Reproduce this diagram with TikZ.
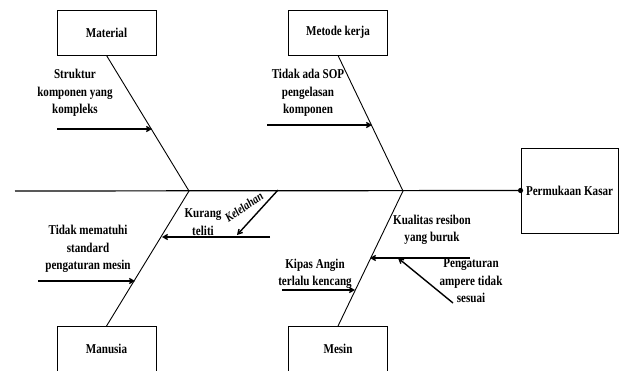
\documentclass[tikz,border=0pt]{standalone}
\usepackage{fontspec}
\setmainfont{Liberation Serif}[FakeStretch=0.82]
\usetikzlibrary{arrows.meta}

\tikzset{
  causebox/.style={draw, line width=0.9pt, minimum width=99pt, minimum height=45pt,
    inner sep=0pt, font=\fontsize{13.5}{17.5}\selectfont\bfseries},
  cause/.style={align=center, inner sep=0pt, font=\fontsize{13.5}{17.5}\selectfont\bfseries},
  rib/.style={line width=0.9pt},
  subarrow/.style={line width=1.4pt, -{Straight Barb[angle=60:5pt]}},
}

\begin{document}
\begin{tikzpicture}[x=1pt,y=-1pt]
    \useasboundingbox (0,0) rectangle (620,371);
    \clip (0,0) rectangle (620,371);

    % kategori
    \node[causebox] (material) at (106.5,32.5) {Material};
    \node[causebox] (metode) at (338,32.5) {Metode kerja};
    \node[causebox] (manusia) at (106.5,349) {Manusia};
    \node[causebox] (mesin) at (338,349) {Mesin};
    \node[causebox, minimum width=97pt, minimum height=85pt] (akibat) at (569.5,190.5) {Permukaan Kasar};

    % tulang utama
    \coordinate (ekor) at (15,191);
    \coordinate (jkiri) at (189,191);
    \coordinate (jkanan) at (403,191);
    \draw[line width=1.2pt] (ekor) -- (akibat.west);
    \fill (akibat.west) circle (2.6pt);
    \draw[rib] (material.south) -- (jkiri) -- (manusia.north);
    \draw[rib] (metode.south) -- (jkanan) -- (mesin.north);

    % sebab
    \node[cause] (struktur) at (75,93) {Struktur\\komponen yang\\kompleks};
    \node[cause] (sop) at (308,93) {Tidak ada SOP\\pengelasan\\komponen};
    \node[cause] (mematuhi) at (88,249) {Tidak mematuhi\\standard\\pengaturan mesin};
    \node[cause] (kurang) at (203,222) {Kurang\\teliti};
    \node[cause, font=\fontsize{12.5}{13}\selectfont\bfseries\itshape, rotate=35] (lelah) at (244,207) {Kelelahan};
    \node[cause] (resibon) at (432,230) {Kualitas resibon\\yang buruk};
    \node[cause] (ampere) at (471,281) {Pengaturan\\ampere tidak\\sesuai};
    \node[cause] (kipas) at (315,274) {Kipas Angin\\terlalu kencang};

    \coordinate (s1a) at (57,129);  \coordinate (s1b) at (152,129);
    \coordinate (s2a) at (267,125); \coordinate (s2b) at (372,125);
    \coordinate (s3a) at (38,281);  \coordinate (s3b) at (135,281);
    \coordinate (s4a) at (270,237); \coordinate (s4b) at (162,237);
    \coordinate (s5a) at (278,190); \coordinate (s5b) at (237,235);
    \coordinate (s6a) at (470,258); \coordinate (s6b) at (370,258);
    \coordinate (s7a) at (453,303); \coordinate (s7b) at (398,258);
    \coordinate (s8a) at (282,290); \coordinate (s8b) at (355,290);

    \draw[subarrow] (s1a) -- (s1b);
    \draw[subarrow] (s2a) -- (s2b);
    \draw[subarrow] (s3a) -- (s3b);
    \draw[subarrow] (s4a) -- (s4b);
    \draw[subarrow] (s5a) -- (s5b);
    \draw[subarrow] (s6a) -- (s6b);
    \draw[subarrow] (s7a) -- (s7b);
    \draw[subarrow] (s8a) -- (s8b);
\end{tikzpicture}
\end{document}
